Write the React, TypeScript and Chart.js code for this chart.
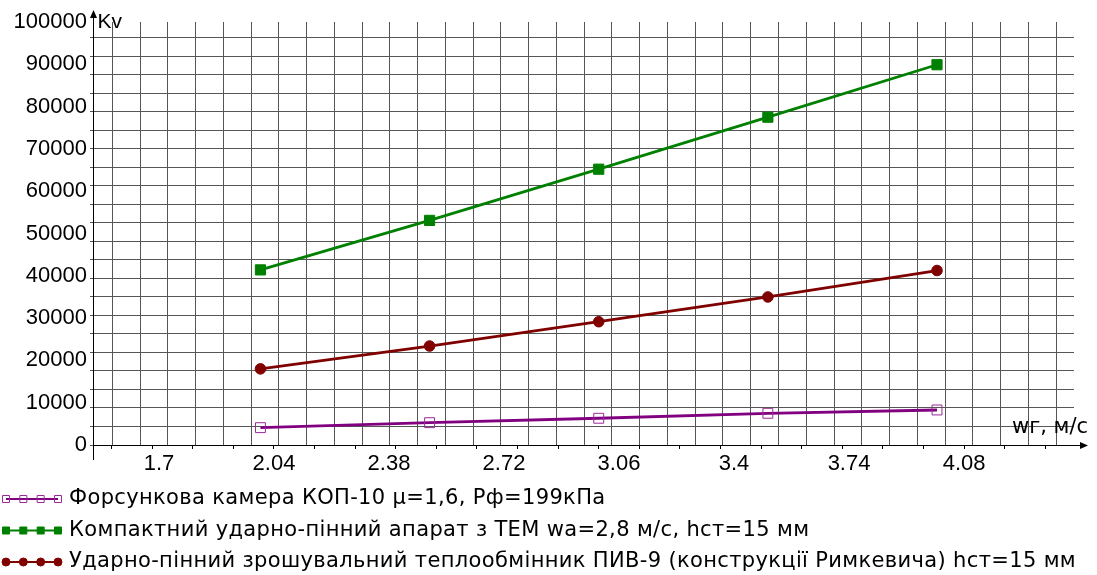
import React, { useEffect, useRef } from 'react';
import { Chart, registerables } from 'chart.js';

Chart.register(...registerables);

// gas velocity wг, m/s
const velocities = [2.0, 2.5, 3.0, 3.5, 4.0];

// Kv for each apparatus
const nozzleChamberKv = [4100, 5280, 6320, 7500, 8280];
const compactFoamKv = [41400, 53100, 65200, 77500, 89900];
const pivKv = [18000, 23400, 29150, 35000, 41250];

const seriesLabels = [
  'Форсункова камера КОП-10 μ=1,6, Рф=199кПа',
  'Компактний ударно-пінний апарат з ТЕМ wa=2,8 м/с, hст=15 мм',
  'Ударно-пінний зрошувальний теплообмінник ПИВ-9 (конструкції Римкевича) hст=15 мм',
];

const xTicks = [1.7, 2.04, 2.38, 2.72, 3.06, 3.4, 3.74, 4.08];
const yTicks = [0, 10000, 20000, 30000, 40000, 50000, 60000, 70000, 80000, 90000, 100000];

const W = 1097;
const H = 575;
const FONT = '"Liberation Sans", Arial, sans-serif';
const TEXT_FONT = '"DejaVu Sans", Verdana, sans-serif';
const GRID = '#555555';

const X_MIN = 1.505;
const X_MAX = 4.405;
// the background grid doesn't follow the labelled ticks
const GRID_X0 = 1.8902;
const GRID_DX = 0.08206;
const GRID_DY = 4378.7;

const toPoints = (ys: number[]) => ys.map((y, i) => ({ x: velocities[i], y }));

const decor = {
  id: 'decor',
  afterDraw(chart: any) {
    const { ctx, chartArea: a } = chart;
    const ax = Math.round(a.left) + 0.5;
    const ay = Math.round(a.bottom) + 0.5;
    ctx.save();
    ctx.strokeStyle = '#000';
    ctx.fillStyle = '#000';
    ctx.lineWidth = 1;

    // axes with arrows
    ctx.beginPath();
    ctx.moveTo(ax, a.bottom + 15);
    ctx.lineTo(ax, a.top - 6);
    ctx.moveTo(ax, ay);
    ctx.lineTo(a.right + 8, ay);
    ctx.stroke();
    ctx.beginPath();
    ctx.moveTo(ax, a.top - 12);
    ctx.lineTo(ax - 3.5, a.top - 4);
    ctx.lineTo(ax + 3.5, a.top - 4);
    ctx.closePath();
    ctx.fill();
    ctx.beginPath();
    ctx.moveTo(a.right + 14, ay);
    ctx.lineTo(a.right + 6, ay - 3.5);
    ctx.lineTo(a.right + 6, ay + 3.5);
    ctx.closePath();
    ctx.fill();

    ctx.textBaseline = 'middle';
    ctx.textAlign = 'left';
    ctx.font = `21px ${FONT}`;
    ctx.fillText('Kv', ax + 4, a.top);
    ctx.textAlign = 'right';
    ctx.font = `21px ${TEXT_FONT}`;
    ctx.fillText('wг, м/с', a.right + 14, a.bottom - 17);

    // legend with four markers per sample
    ctx.textAlign = 'left';
    ctx.letterSpacing = '0.35px';
    chart.data.datasets.forEach((ds: any, i: number) => {
      const y = H - 76 + i * 31.5;
      ctx.strokeStyle = ds.borderColor;
      ctx.lineWidth = 2;
      ctx.beginPath();
      ctx.moveTo(6, y);
      ctx.lineTo(58, y);
      ctx.stroke();
      for (let k = 0; k < 4; k++) {
        const px = 6 + k * 17.33;
        ctx.lineWidth = 1;
        ctx.strokeStyle = ds.pointBorderColor;
        ctx.fillStyle = ds.pointBackgroundColor;
        ctx.beginPath();
        if (ds.pointStyle === 'circle') ctx.arc(px, y, 4, 0, Math.PI * 2);
        else ctx.rect(px - 3.5, y - 3.5, 7, 7);
        ctx.fill();
        ctx.stroke();
      }
      ctx.fillStyle = '#000';
      ctx.fillText(ds.label, 69, y);
    });
    ctx.restore();
  },
};

const App: React.FC = () => {
  const canvasRef = useRef<HTMLCanvasElement>(null);

  useEffect(() => {
    if (!canvasRef.current) return;
    document.body.style.margin = '0';

    const chart = new Chart(canvasRef.current, {
      type: 'line',
      data: {
        datasets: [
          {
            label: seriesLabels[0],
            data: toPoints(nozzleChamberKv),
            borderColor: '#800080',
            borderWidth: 2.8,
            pointStyle: 'rect',
            pointRadius: 7,
            pointBorderWidth: 1,
            pointBorderColor: '#9a2a9a',
            pointBackgroundColor: 'rgba(0,0,0,0)',
          },
          {
            label: seriesLabels[1],
            data: toPoints(compactFoamKv),
            borderColor: '#008000',
            borderWidth: 2.8,
            pointStyle: 'rect',
            pointRadius: 7.2,
            pointBorderWidth: 1,
            pointBorderColor: '#008000',
            pointBackgroundColor: '#008000',
          },
          {
            label: seriesLabels[2],
            data: toPoints(pivKv),
            borderColor: '#800000',
            borderWidth: 2.8,
            pointStyle: 'circle',
            pointRadius: 5.3,
            pointBorderWidth: 1,
            pointBorderColor: '#800000',
            pointBackgroundColor: '#800000',
          },
        ] as any,
      },
      options: {
        responsive: false,
        animation: false,
        layout: { padding: { left: 0, top: 22, right: 23, bottom: 86 } },
        font: { family: FONT },
        elements: { line: { tension: 0 } },
        plugins: {
          legend: { display: false },
          tooltip: { enabled: false },
        },
        scales: {
          x: {
            type: 'linear',
            position: 'bottom',
            weight: 2,
            min: X_MIN,
            max: X_MAX,
            grid: { display: false, drawTicks: false },
            border: { display: false },
            ticks: {
              padding: 2,
              autoSkip: false,
              maxRotation: 0,
              color: '#000',
              font: { family: FONT, size: 22 },
              callback: (v: any) => String(v),
            },
            afterBuildTicks: (s: any) => {
              s.ticks = xTicks.map((value) => ({ value }));
            },
            afterFit: (s: any) => {
              s.height = 40;
            },
          },
          xMinor: {
            type: 'linear',
            position: 'bottom',
            weight: 1,
            min: X_MIN,
            max: X_MAX,
            grid: { drawOnChartArea: false, drawTicks: true, tickLength: 4, color: '#000' },
            border: { display: false },
            ticks: { display: false, stepSize: 0.12, includeBounds: false },
          },
          xGrid: {
            type: 'linear',
            position: 'bottom',
            weight: 0,
            min: (X_MIN - GRID_X0) / GRID_DX,
            max: (X_MAX - GRID_X0) / GRID_DX,
            grid: { color: GRID, drawTicks: false },
            border: { display: false },
            ticks: { display: false, stepSize: 1, includeBounds: false },
          },
          y: {
            type: 'linear',
            position: 'left',
            weight: 1,
            min: 0,
            max: 100000,
            grid: { display: false, drawTicks: false },
            border: { display: false },
            ticks: {
              padding: 3,
              autoSkip: false,
              color: '#000',
              font: { family: FONT, size: 22 },
              callback: (v: any) => String(v),
            },
            afterBuildTicks: (s: any) => {
              s.ticks = yTicks.map((value) => ({ value }));
            },
            afterFit: (s: any) => {
              s.width = 90;
            },
          },
          yGrid: {
            type: 'linear',
            position: 'left',
            weight: 0,
            min: 0,
            max: 100000 / GRID_DY,
            grid: { color: GRID, drawTicks: true, tickLength: 3 },
            border: { display: false },
            ticks: { display: false, stepSize: 1, includeBounds: false },
          },
        },
      } as any,
      plugins: [decor],
    });

    return () => {
      chart.destroy();
    };
  }, []);

  return (
    <div style={{ width: W, height: H, background: '#fff' }}>
      <canvas ref={canvasRef} width={W} height={H} />
    </div>
  );
};

export default App;
